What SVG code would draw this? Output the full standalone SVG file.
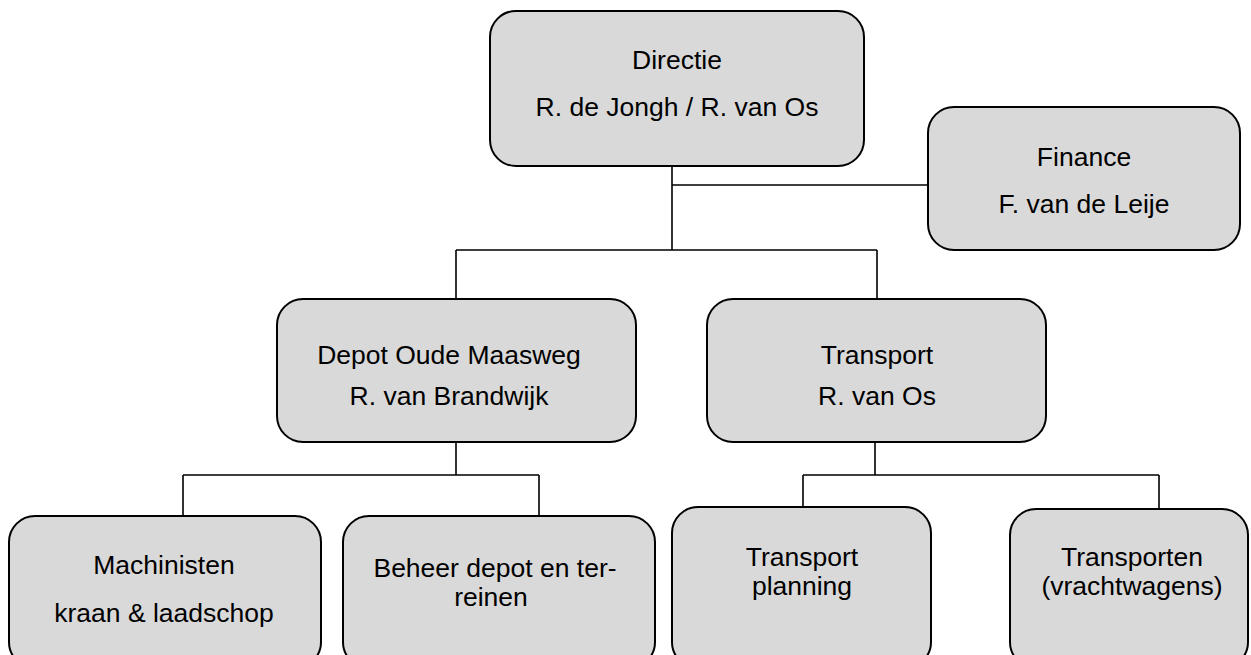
<svg xmlns="http://www.w3.org/2000/svg" width="1251" height="655" viewBox="0 0 1251 655">
<style>
.box{fill:#d9d9d9;stroke:#000;stroke-width:2}
.lbl{font-family:"Liberation Sans",Arial,sans-serif;font-size:26.5px;fill:#000;text-anchor:middle}
.con{fill:none;stroke:#000;stroke-width:1.6}
</style>
<rect width="1251" height="655" fill="#fff"/>
<g id="connectors">
<path class="con" d="M672 166V250M672 185H928M456 250H877M456 250V299M877 250V299"/>
<path class="con" d="M456 442V475M183 475H539M183 475V516M539 475V516"/>
<path class="con" d="M875 442V475M803 475H1159M803 475V507M1159 475V509"/>
</g>
<g id="directie">
<rect class="box" x="490" y="11" width="374" height="155" rx="26"/>
<text class="lbl" x="677" y="69">Directie</text>
<text class="lbl" x="677" y="116">R. de Jongh / R. van Os</text>
</g>
<g id="finance">
<rect class="box" x="928" y="107" width="312" height="143" rx="26"/>
<text class="lbl" x="1084" y="166">Finance</text>
<text class="lbl" x="1084" y="213">F. van de Leije</text>
</g>
<g id="depot">
<rect class="box" x="277" y="299" width="359" height="143" rx="26"/>
<text class="lbl" x="449" y="364">Depot Oude Maasweg</text>
<text class="lbl" x="449" y="405">R. van Brandwijk</text>
</g>
<g id="transport">
<rect class="box" x="707" y="299" width="339" height="143" rx="26"/>
<text class="lbl" x="877" y="364">Transport</text>
<text class="lbl" x="877" y="405">R. van Os</text>
</g>
<g id="machinisten">
<rect class="box" x="9" y="516" width="312" height="152" rx="26"/>
<text class="lbl" x="164" y="574">Machinisten</text>
<text class="lbl" x="164" y="622">kraan &amp; laadschop</text>
</g>
<g id="beheer">
<rect class="box" x="343" y="516" width="312" height="152" rx="26"/>
<text class="lbl" x="495" y="577">Beheer depot en ter-</text>
<text class="lbl" x="491" y="606">reinen</text>
</g>
<g id="transport-planning">
<rect class="box" x="672" y="507" width="259" height="161" rx="26"/>
<text class="lbl" x="802" y="566">Transport</text>
<text class="lbl" x="802" y="595">planning</text>
</g>
<g id="transporten">
<rect class="box" x="1010" y="509" width="238" height="159" rx="26"/>
<text class="lbl" x="1132" y="566">Transporten</text>
<text class="lbl" x="1132" y="595">(vrachtwagens)</text>
</g>
</svg>
